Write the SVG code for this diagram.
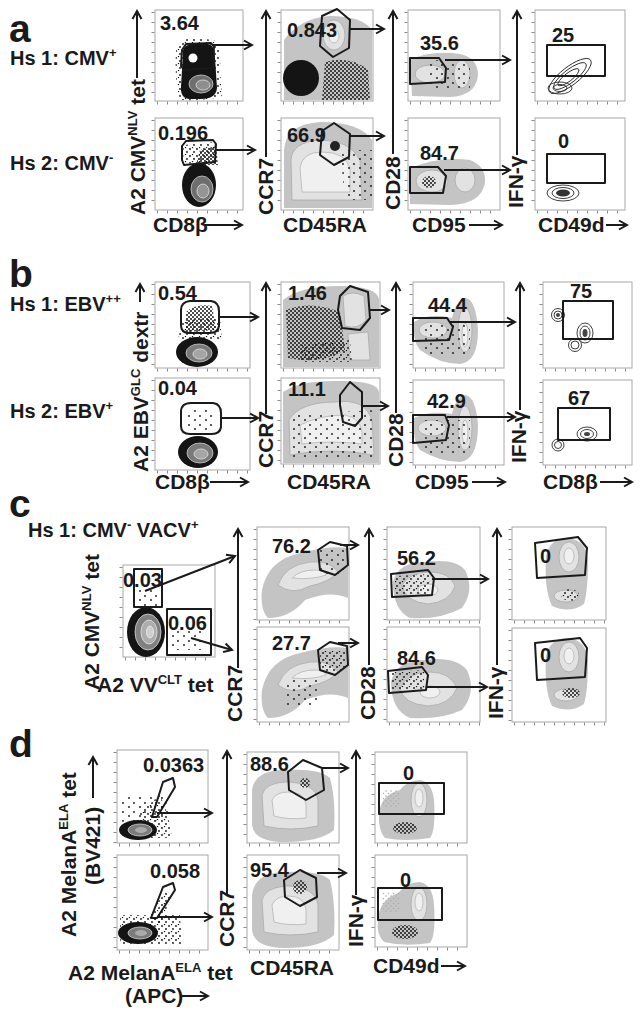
<svg xmlns="http://www.w3.org/2000/svg" width="644" height="1019" viewBox="0 0 644 1019">
<defs>
<style>
text{font-family:"Liberation Sans",Arial,sans-serif;font-weight:bold;fill:#1a1a1a}
.pl{font-size:39px}
.hs{font-size:20px}
.num{font-size:20px}
.ax{font-size:21px}
.sup{font-size:13px}
.fr{fill:#fff;stroke:#a8a8a8;stroke-width:1}
.tk{stroke:#8a8a8a;stroke-width:3;stroke-dasharray:1 9;fill:none}
.gate{fill:none;stroke:#1a1a1a;stroke-width:2;stroke-linejoin:round}
.bk{fill:#141414}
.gy{fill:#c4c4c4}
.lt{fill:#e2e2e2;stroke:#a9a9a9;stroke-width:0.8}
.lt2{fill:#f0f0f0;stroke:#b5b5b5;stroke-width:0.8}
.ct{fill:none;stroke:#2a2a2a;stroke-width:0.9}
.con line,.con polyline,.con path{stroke:#1a1a1a;stroke-width:2;fill:none;marker-end:url(#ah)}
</style>
<marker id="ah" markerWidth="12" markerHeight="12" refX="10" refY="6" orient="auto" markerUnits="userSpaceOnUse">
<path d="M2,1.5 L10,6 L2,10.5" fill="none" stroke="#1a1a1a" stroke-width="2"/>
</marker>
<pattern id="spk" width="7" height="7" patternUnits="userSpaceOnUse">
<circle cx="1" cy="2" r="0.9" fill="#111"/><circle cx="5" cy="5" r="0.9" fill="#111"/><circle cx="3.5" cy="0.5" r="0.7" fill="#111"/>
</pattern>
<pattern id="spkd" width="4" height="4" patternUnits="userSpaceOnUse">
<circle cx="1" cy="1" r="1" fill="#111"/><circle cx="3" cy="3" r="1" fill="#111"/>
</pattern>
<pattern id="spks" width="11" height="9" patternUnits="userSpaceOnUse">
<circle cx="2" cy="2" r="0.9" fill="#111"/><circle cx="8" cy="6" r="0.9" fill="#111"/>
</pattern>
<pattern id="spkg" width="5" height="5" patternUnits="userSpaceOnUse">
<circle cx="1" cy="1" r="0.8" fill="#aaa"/><circle cx="3.5" cy="3.5" r="0.8" fill="#aaa"/>
</pattern>
</defs>
<rect width="644" height="1019" fill="#fff"/>

<!-- ================= PANEL A ================= -->
<g id="panel-a-labels">
<text class="pl" x="9" y="42">a</text>
<text class="hs" x="10" y="65">Hs 1: CMV<tspan class="sup" dy="-8">+</tspan></text>
<text class="hs" x="10" y="170">Hs 2: CMV<tspan class="sup" dy="-8">-</tspan></text>
<text class="ax" transform="translate(145,215) rotate(-90)">A2 CMV<tspan class="sup" dy="-8">NLV</tspan><tspan dy="8"> tet</tspan></text>
<text class="ax" transform="translate(273,215) rotate(-90)">CCR7</text>
<text class="ax" transform="translate(400,210) rotate(-90)">CD28</text>
<text class="ax" transform="translate(523,208) rotate(-90)">IFN-γ</text>
<text class="ax" x="153" y="232">CD8β</text>
<text class="ax" x="283" y="232">CD45RA</text>
<text class="ax" x="412" y="232">CD95</text>
<text class="ax" x="538" y="232">CD49d</text>
</g>

<g id="a1-top">
<rect class="fr" x="155" y="10" width="88" height="91"/>
<line class="tk" x1="153" y1="12" x2="153" y2="101"/><line class="tk" x1="157" y1="103" x2="243" y2="103"/>
<path fill="url(#spk)" d="M176,50 Q178,38 196,38 L214,40 Q222,50 220,70 L222,96 Q210,101 180,100 Q174,80 176,50 Z"/>
<path class="bk" d="M183,54 Q182,44 194,44 L208,44 Q215,45 215,58 L217,88 Q216,99 201,99 L189,99 Q180,98 181,86 Z"/>
<circle cx="193" cy="58" r="4.5" fill="#fff"/>
<ellipse cx="201" cy="84" rx="12" ry="9" fill="#6e6e6e" stroke="#cfcfcf" stroke-width="0.8"/>
<ellipse cx="203" cy="85" rx="7" ry="5" fill="#8e8e8e" stroke="#e0e0e0" stroke-width="0.8"/>
<polygon class="gate" points="182,50 186,44 211,43 214,47 213,68 184,70 181,66"/>
<text class="num" x="160" y="30">3.64</text>
</g>
<g id="a1-bot">
<rect class="fr" x="155" y="118" width="88" height="92"/>
<line class="tk" x1="153" y1="120" x2="153" y2="210"/><line class="tk" x1="157" y1="212" x2="243" y2="212"/>
<path fill="url(#spk)" d="M183,145 L214,142 L216,162 L184,164 Z"/>
<path fill="url(#spkd)" d="M200,150 L216,146 L218,165 L196,165 Z"/>
<ellipse class="bk" cx="199" cy="185" rx="17" ry="22"/>
<ellipse cx="202" cy="189" rx="11" ry="13" fill="#6e6e6e" stroke="#cfcfcf" stroke-width="0.8"/>
<ellipse cx="203" cy="191" rx="6" ry="7" fill="#959595" stroke="#e0e0e0" stroke-width="0.8"/>
<polygon class="gate" points="182,146 186,141 213,140 216,144 215,162 184,165 182,160"/>
<text class="num" x="158" y="140">0.196</text>
</g>

<g id="a2-top">
<rect class="fr" x="281" y="10" width="92" height="91"/>
<line class="tk" x1="279" y1="12" x2="279" y2="101"/><line class="tk" x1="283" y1="103" x2="373" y2="103"/>
<path class="gy" d="M284,40 Q300,18 330,16 Q362,16 372,30 L372,100 L284,100 Z"/>
<ellipse cx="334" cy="35" rx="11" ry="15" class="lt"/>
<ellipse cx="334" cy="36" rx="5" ry="7" class="lt2"/>
<path fill="url(#spkd)" d="M325,62 Q350,55 368,70 L370,100 L322,100 Z"/>
<ellipse class="bk" cx="301" cy="78" rx="18" ry="18"/>
<polygon class="gate" points="322,16 337,9 350,20 349,48 333,57 320,46"/>
<text class="num" x="287" y="37">0.843</text>
</g>
<g id="a2-bot">
<rect class="fr" x="281" y="118" width="92" height="92"/>
<line class="tk" x1="279" y1="120" x2="279" y2="210"/><line class="tk" x1="283" y1="212" x2="373" y2="212"/>
<path class="gy" d="M284,150 Q286,124 320,122 Q360,122 372,140 L372,208 L284,208 Z"/>
<path class="lt" d="M291,160 Q292,142 320,140 Q350,140 360,160 L362,200 L292,200 Z"/>
<path class="lt2" d="M300,168 Q302,152 322,152 Q345,152 350,168 L350,192 L302,192 Z"/>
<circle cx="335" cy="146" r="5" fill="#222"/>
<path fill="url(#spks)" d="M340,150 L372,150 L372,200 L345,200 Z"/>
<polygon class="gate" points="322,131 334,123 350,134 349,157 334,165 320,155"/>
<text class="num" x="287" y="142">66.9</text>
</g>

<g id="a3-top">
<rect class="fr" x="408" y="10" width="92" height="91"/>
<line class="tk" x1="406" y1="12" x2="406" y2="101"/><line class="tk" x1="410" y1="103" x2="500" y2="103"/>
<path class="gy" d="M410,60 Q430,50 460,54 Q478,58 478,75 Q476,96 450,97 L412,96 Z"/>
<ellipse cx="430" cy="74" rx="15" ry="9" class="lt"/>
<ellipse cx="462" cy="74" rx="8" ry="14" class="lt"/>
<path fill="url(#spks)" d="M430,60 L470,60 L470,90 L430,90 Z"/>
<polygon class="gate" points="410,58 439,58 446,68 445,82 410,84"/>
<text class="num" x="420" y="50">35.6</text>
</g>
<g id="a3-bot">
<rect class="fr" x="408" y="118" width="92" height="92"/>
<line class="tk" x1="406" y1="120" x2="406" y2="210"/><line class="tk" x1="410" y1="212" x2="500" y2="212"/>
<path class="gy" d="M410,168 Q440,156 470,160 Q486,166 485,182 Q482,204 450,205 L410,204 Z"/>
<ellipse cx="432" cy="181" rx="16" ry="11" class="lt"/>
<ellipse cx="465" cy="180" rx="10" ry="12" class="lt"/>
<ellipse cx="429" cy="182" rx="7" ry="6" fill="url(#spkd)"/>
<polygon class="gate" points="410,167 438,167 446,176 443,193 410,193"/>
<text class="num" x="420" y="160">84.7</text>
</g>

<g id="a4-top">
<rect class="fr" x="535" y="10" width="90" height="91"/>
<line class="tk" x1="533" y1="12" x2="533" y2="101"/><line class="tk" x1="537" y1="103" x2="625" y2="103"/>
<g transform="rotate(-38 570 76)">
<ellipse class="ct" cx="570" cy="76" rx="26" ry="9"/>
<ellipse class="ct" cx="570" cy="76" rx="20" ry="6.5"/>
<ellipse class="ct" cx="568" cy="76" rx="13" ry="4"/>
</g>
<ellipse class="ct" cx="560" cy="88" rx="12" ry="6"/>
<ellipse class="ct" cx="560" cy="88" rx="7" ry="3.5" fill="#555"/>
<rect class="gate" x="547" y="45" width="58" height="31"/>
<text class="num" x="552" y="42">25</text>
</g>
<g id="a4-bot">
<rect class="fr" x="535" y="118" width="90" height="92"/>
<line class="tk" x1="533" y1="120" x2="533" y2="210"/><line class="tk" x1="537" y1="212" x2="625" y2="212"/>
<ellipse class="ct" cx="563" cy="193" rx="16" ry="8"/>
<ellipse class="ct" cx="563" cy="193" rx="11" ry="5.5"/>
<ellipse cx="563" cy="193" rx="7" ry="3.5" fill="#333"/>
<rect class="gate" x="547" y="154" width="58" height="29"/>
<text class="num" x="558" y="148">0</text>
</g>

<!-- ================= PANEL B ================= -->
<g id="panel-b-labels">
<text class="pl" x="9" y="287">b</text>
<text class="hs" x="10" y="311">Hs 1: EBV<tspan class="sup" dy="-8">++</tspan></text>
<text class="hs" x="10" y="418">Hs 2: EBV<tspan class="sup" dy="-8">+</tspan></text>
<text class="ax" font-size="22" transform="translate(148,472) rotate(-90)">A2 EBV<tspan class="sup" dy="-8">GLC</tspan><tspan dy="8"> dextr</tspan></text>
<text class="ax" transform="translate(273,468) rotate(-90)">CCR7</text>
<text class="ax" transform="translate(403,467) rotate(-90)">CD28</text>
<text class="ax" transform="translate(526,463) rotate(-90)">IFN-γ</text>
<text class="ax" x="155" y="489">CD8β</text>
<text class="ax" x="287" y="489">CD45RA</text>
<text class="ax" x="415" y="489">CD95</text>
<text class="ax" x="543" y="489">CD8β</text>
</g>

<g id="b1-top">
<rect class="fr" x="155" y="282" width="95" height="86"/>
<line class="tk" x1="153" y1="284" x2="153" y2="368"/><line class="tk" x1="157" y1="370" x2="250" y2="370"/>
<path fill="url(#spkd)" d="M186,312 Q195,303 212,306 L216,330 L186,332 Z"/>
<path fill="url(#spk)" d="M182,320 L220,318 L222,340 L178,340 Z"/>
<ellipse class="bk" cx="197" cy="352" rx="21" ry="15"/>
<ellipse cx="199" cy="353" rx="13" ry="9" fill="#7a7a7a" stroke="#d0d0d0" stroke-width="0.8"/>
<ellipse cx="200" cy="354" rx="7" ry="5" fill="#a5a5a5" stroke="#e2e2e2" stroke-width="0.8"/>
<path class="gate" d="M181,310 Q181,302 190,301 L211,301 Q219,302 219,311 L219,326 Q218,333 210,333 L189,333 Q181,333 181,325 Z"/>
<text class="num" x="158" y="300">0.54</text>
</g>
<g id="b1-bot">
<rect class="fr" x="155" y="378" width="95" height="92"/>
<line class="tk" x1="153" y1="380" x2="153" y2="470"/><line class="tk" x1="157" y1="472" x2="250" y2="472"/>
<path fill="url(#spks)" d="M186,408 L216,408 L216,432 L186,432 Z"/>
<ellipse class="bk" cx="198" cy="452" rx="20" ry="16"/>
<ellipse cx="200" cy="453" rx="13" ry="10" fill="#7a7a7a" stroke="#d0d0d0" stroke-width="0.8"/>
<ellipse cx="201" cy="454" rx="7" ry="5" fill="#a5a5a5" stroke="#e2e2e2" stroke-width="0.8"/>
<path class="gate" d="M181,412 Q181,403 191,403 L213,403 Q221,404 221,413 L221,427 Q220,434 212,434 L190,434 Q181,434 181,426 Z"/>
<text class="num" x="158" y="395">0.04</text>
</g>

<g id="b2-top">
<rect class="fr" x="281" y="282" width="99" height="86"/>
<line class="tk" x1="279" y1="284" x2="279" y2="368"/><line class="tk" x1="283" y1="370" x2="380" y2="370"/>
<path class="gy" d="M283,300 Q300,286 340,286 Q378,286 379,300 L379,367 L283,367 Z"/>
<path class="lt" d="M343,296 Q352,290 364,296 L366,320 Q358,330 345,326 Z"/>
<path class="lt" d="M348,334 L368,332 L370,360 L350,360 Z"/>
<path fill="url(#spkd)" d="M286,310 Q310,300 340,312 L345,350 Q320,365 288,358 Z"/>
<path fill="url(#spk)" d="M300,345 L350,340 L352,362 L300,362 Z"/>
<polygon class="gate" points="340,296 350,286 368,292 370,318 360,330 342,328 338,310"/>
<text class="num" x="288" y="300">1.46</text>
</g>
<g id="b2-bot">
<rect class="fr" x="281" y="378" width="99" height="86"/>
<line class="tk" x1="279" y1="380" x2="279" y2="464"/><line class="tk" x1="283" y1="466" x2="380" y2="466"/>
<path class="gy" d="M283,392 Q300,380 340,381 Q378,381 379,392 L379,463 L283,463 Z"/>
<path class="lt" d="M289,420 Q300,402 335,402 Q365,398 372,420 L374,455 Q330,447 290,455 Z"/>
<path class="lt2" d="M300,425 Q320,415 345,415 Q360,418 362,432 L362,444 Q330,440 302,444 Z"/>
<path fill="url(#spks)" d="M292,415 L375,410 L375,458 L292,458 Z"/>
<polygon class="gate" points="340,395 350,382 362,392 362,418 355,426 343,422 340,405"/>
<text class="num" x="288" y="396">11.1</text>
</g>

<g id="b3-top">
<rect class="fr" x="413" y="282" width="91" height="86"/>
<line class="tk" x1="411" y1="284" x2="411" y2="368"/><line class="tk" x1="415" y1="370" x2="504" y2="370"/>
<path class="gy" d="M414,322 Q430,312 452,318 Q456,300 466,298 Q476,300 478,330 Q478,362 460,364 Q440,364 420,350 Q412,340 414,322 Z"/>
<ellipse cx="433" cy="330" rx="14" ry="8" class="lt"/>
<ellipse cx="465" cy="330" rx="7" ry="22" class="lt"/>
<ellipse cx="465" cy="335" rx="3" ry="12" class="lt2"/>
<path fill="url(#spks)" d="M425,322 L470,322 L470,355 L425,355 Z"/>
<polygon class="gate" points="413,318 447,318 453,327 449,340 413,341"/>
<text class="num" x="428" y="312">44.4</text>
</g>
<g id="b3-bot">
<rect class="fr" x="413" y="380" width="91" height="85"/>
<line class="tk" x1="411" y1="382" x2="411" y2="465"/><line class="tk" x1="415" y1="467" x2="504" y2="467"/>
<path class="gy" d="M414,418 Q430,410 452,414 Q456,396 466,395 Q476,398 478,425 Q478,460 460,462 Q440,462 420,450 Q412,440 414,418 Z"/>
<ellipse cx="432" cy="428" rx="14" ry="8" class="lt"/>
<ellipse cx="465" cy="428" rx="7" ry="22" class="lt"/>
<ellipse cx="465" cy="432" rx="3" ry="12" class="lt2"/>
<path fill="url(#spks)" d="M425,420 L470,420 L470,455 L425,455 Z"/>
<polygon class="gate" points="413,415 445,415 449,425 446,440 413,443"/>
<text class="num" x="427" y="408">42.9</text>
</g>

<g id="b4-top">
<rect class="fr" x="543" y="282" width="89" height="86"/>
<line class="tk" x1="541" y1="284" x2="541" y2="368"/><line class="tk" x1="545" y1="370" x2="632" y2="370"/>
<circle class="ct" cx="558" cy="315" r="6.5"/><circle class="ct" cx="558" cy="315" r="4"/><circle cx="558" cy="315" r="2" fill="#444"/>
<ellipse class="ct" cx="585" cy="333" rx="8" ry="10"/><ellipse class="ct" cx="585" cy="333" rx="5" ry="7"/><ellipse cx="585" cy="333" rx="2.5" ry="4" fill="#444"/>
<circle class="ct" cx="575" cy="345" r="6.5"/><circle class="ct" cx="575" cy="345" r="4"/>
<rect class="gate" x="563" y="301" width="50" height="38"/>
<text class="num" x="570" y="298">75</text>
</g>
<g id="b4-bot">
<rect class="fr" x="543" y="380" width="89" height="85"/>
<line class="tk" x1="541" y1="382" x2="541" y2="465"/><line class="tk" x1="545" y1="467" x2="632" y2="467"/>
<circle class="ct" cx="558" cy="445" r="6"/><circle class="ct" cx="558" cy="445" r="3.5"/>
<ellipse class="ct" cx="587" cy="434" rx="10" ry="7"/><ellipse class="ct" cx="587" cy="434" rx="6.5" ry="4.5"/><ellipse cx="587" cy="434" rx="3" ry="2" fill="#444"/>
<rect class="gate" x="558" y="408" width="52" height="32"/>
<text class="num" x="568" y="405">67</text>
</g>

<!-- ================= PANEL C ================= -->
<g id="panel-c-labels">
<text class="pl" x="9" y="517">c</text>
<text class="hs" x="28" y="537">Hs 1: CMV<tspan class="sup" dy="-8">-</tspan><tspan dy="8"> VACV</tspan><tspan class="sup" dy="-8">+</tspan></text>
<text class="ax" transform="translate(99,690) rotate(-90)">A2 CMV<tspan class="sup" dy="-8">NLV</tspan><tspan dy="8"> tet</tspan></text>
<text class="ax" x="97" y="692">A2 VV<tspan class="sup" dy="-8">CLT</tspan><tspan dy="8"> tet</tspan></text>
<text class="ax" transform="translate(242,722) rotate(-90)">CCR7</text>
<text class="ax" transform="translate(375,720) rotate(-90)">CD28</text>
<text class="ax" transform="translate(503,719) rotate(-90)">IFN-γ</text>
</g>

<g id="c1-tet">
<rect class="fr" x="123" y="565" width="92" height="92"/>
<line class="tk" x1="121" y1="567" x2="121" y2="657"/><line class="tk" x1="125" y1="659" x2="215" y2="659"/>
<path fill="url(#spks)" d="M136,590 L160,590 L160,606 L136,606 Z"/>
<path fill="url(#spks)" d="M170,628 L205,628 L205,650 L170,650 Z"/>
<ellipse class="bk" cx="146" cy="632" rx="19" ry="25"/>
<ellipse cx="148" cy="632" rx="13" ry="18" fill="#808080" stroke="#d8d8d8" stroke-width="0.8"/>
<ellipse cx="149" cy="632" rx="8" ry="12" fill="#adadad" stroke="#e4e4e4" stroke-width="0.8"/>
<ellipse cx="150" cy="632" rx="3.5" ry="6" fill="#cfcfcf" stroke="#eee" stroke-width="0.8"/>
<rect class="gate" x="134" y="569" width="28" height="38"/>
<rect class="gate" x="167" y="609" width="44" height="46"/>
<text class="num" x="123" y="587">0.03</text>
<text class="num" x="168" y="630">0.06</text>
</g>

<g id="c2-top">
<rect class="fr" x="257" y="527" width="92" height="93"/>
<line class="tk" x1="255" y1="529" x2="255" y2="620"/><line class="tk" x1="259" y1="622" x2="349" y2="622"/>
<path class="gy" d="M262,590 Q268,560 300,553 Q330,545 348,548 L348,598 Q330,590 305,600 Q290,618 268,618 Q260,610 262,590 Z"/>
<path class="lt" d="M278,585 Q285,565 310,562 Q330,560 338,572 Q330,582 310,586 Q292,596 278,585 Z"/>
<path class="lt2" d="M292,578 Q300,570 315,570 Q325,570 326,575 Q312,580 292,578 Z"/>
<path fill="url(#spks)" d="M320,548 L346,548 L346,575 L320,575 Z"/>
<polygon class="gate" points="318,550 330,542 347,546 348,565 335,575 320,570"/>
<text class="num" x="272" y="553">76.2</text>
</g>
<g id="c2-bot">
<rect class="fr" x="257" y="627" width="92" height="95"/>
<line class="tk" x1="255" y1="629" x2="255" y2="722"/><line class="tk" x1="259" y1="724" x2="349" y2="724"/>
<path class="gy" d="M262,690 Q268,660 300,653 Q330,645 348,648 L348,698 Q330,690 305,700 Q290,718 268,718 Q260,710 262,690 Z"/>
<path class="lt" d="M278,685 Q285,665 310,662 Q330,660 338,672 Q330,682 310,686 Q292,696 278,685 Z"/>
<path class="lt2" d="M292,678 Q300,670 315,670 Q325,670 326,675 Q312,680 292,678 Z"/>
<path fill="url(#spk)" d="M320,650 L346,650 L346,672 L320,672 Z"/>
<path fill="url(#spks)" d="M285,680 L320,678 L320,705 L285,705 Z"/>
<polygon class="gate" points="318,650 330,642 347,646 348,665 335,675 320,670"/>
<text class="num" x="272" y="650">27.7</text>
</g>

<g id="c3-top">
<rect class="fr" x="387" y="527" width="93" height="93"/>
<line class="tk" x1="385" y1="529" x2="385" y2="620"/><line class="tk" x1="389" y1="622" x2="480" y2="622"/>
<path class="gy" d="M393,582 Q398,562 425,562 Q455,558 465,570 Q475,590 462,608 Q440,620 410,618 Q393,610 393,582 Z"/>
<path class="lt" d="M402,585 Q410,572 430,572 Q450,572 455,586 Q450,602 428,604 Q405,602 402,585 Z"/>
<ellipse cx="428" cy="590" rx="10" ry="6" class="lt2"/>
<path fill="url(#spk)" d="M395,576 L430,574 L430,594 L395,594 Z"/>
<polygon class="gate" points="391,574 428,570 434,578 432,595 392,597"/>
<text class="num" x="397" y="565">56.2</text>
</g>
<g id="c3-bot">
<rect class="fr" x="387" y="627" width="93" height="95"/>
<line class="tk" x1="385" y1="629" x2="385" y2="722"/><line class="tk" x1="389" y1="724" x2="480" y2="724"/>
<path class="gy" d="M391,682 Q396,660 425,660 Q455,656 467,670 Q477,692 462,710 Q440,720 410,718 Q391,710 391,682 Z"/>
<path class="lt" d="M400,688 Q408,672 430,672 Q450,672 457,688 Q450,705 428,706 Q403,704 400,688 Z"/>
<ellipse cx="430" cy="692" rx="10" ry="6" class="lt2"/>
<path fill="url(#spk)" d="M392,672 L424,670 L424,690 L392,690 Z"/>
<polygon class="gate" points="388,671 422,667 428,675 426,690 389,693"/>
<text class="num" x="397" y="665">84.6</text>
</g>

<g id="c4-top">
<rect class="fr" x="512" y="527" width="94" height="93"/>
<line class="tk" x1="510" y1="529" x2="510" y2="620"/><line class="tk" x1="514" y1="622" x2="606" y2="622"/>
<path class="gy" d="M546,556 Q550,538 568,538 Q586,540 588,560 Q588,590 584,604 Q570,614 552,606 Q544,590 546,556 Z"/>
<ellipse cx="569" cy="557" rx="10" ry="15" class="lt"/>
<ellipse cx="569" cy="556" rx="5" ry="8" class="lt2"/>
<ellipse cx="566" cy="596" rx="12" ry="6" class="lt"/>
<ellipse cx="570" cy="595" rx="9" ry="6" fill="url(#spk)"/>
<polygon class="gate" points="535,543 578,537 587,548 585,575 537,578"/>
<text class="num" x="540" y="563">0</text>
</g>
<g id="c4-bot">
<rect class="fr" x="512" y="628" width="94" height="94"/>
<line class="tk" x1="510" y1="630" x2="510" y2="722"/><line class="tk" x1="514" y1="724" x2="606" y2="724"/>
<path class="gy" d="M546,656 Q550,638 568,638 Q586,640 588,660 Q588,690 584,704 Q570,714 552,706 Q544,690 546,656 Z"/>
<ellipse cx="569" cy="657" rx="10" ry="15" class="lt"/>
<ellipse cx="569" cy="656" rx="5" ry="8" class="lt2"/>
<ellipse cx="566" cy="695" rx="12" ry="6" class="lt"/>
<ellipse cx="571" cy="693" rx="9" ry="5" fill="url(#spkd)"/>
<polygon class="gate" points="535,643 580,638 587,648 585,677 537,680"/>
<text class="num" x="540" y="662">0</text>
</g>

<!-- ================= PANEL D ================= -->
<g id="panel-d-labels">
<text class="pl" x="9" y="757">d</text>
<text class="ax" font-size="22" transform="translate(76,937) rotate(-90)">A2 MelanA<tspan class="sup" dy="-8">ELA</tspan><tspan dy="8"> tet</tspan></text>
<text class="ax" font-size="22" transform="translate(100,885) rotate(-90)">(BV421)</text>
<text class="ax" x="68" y="980">A2 MelanA<tspan class="sup" dy="-8">ELA</tspan><tspan dy="8"> tet</tspan></text>
<text class="ax" x="125" y="1003">(APC)</text>
<text class="ax" transform="translate(234,947) rotate(-90)">CCR7</text>
<text class="ax" transform="translate(363,947) rotate(-90)">IFN-γ</text>
<text class="ax" x="250" y="975">CD45RA</text>
<text class="ax" x="373" y="973">CD49d</text>
</g>

<g id="d1-top">
<rect class="fr" x="117" y="750" width="91" height="93"/>
<line class="tk" x1="115" y1="752" x2="115" y2="843"/><line class="tk" x1="119" y1="845" x2="208" y2="845"/>
<path fill="url(#spks)" d="M120,795 L165,795 L170,820 L120,822 Z"/>
<path fill="url(#spk)" d="M140,812 L160,795 L168,815 L172,838 L140,838 Z"/>
<ellipse class="bk" cx="138" cy="830" rx="19" ry="10"/>
<ellipse cx="140" cy="830" rx="12" ry="6" fill="#7c7c7c" stroke="#d4d4d4" stroke-width="0.8"/>
<ellipse cx="141" cy="830" rx="6" ry="3" fill="#aaa"/>
<polygon class="gate" points="152,817 163,782 173,778 175,787 157,817"/>
<text class="num" x="143" y="772">0.0363</text>
</g>
<g id="d1-bot">
<rect class="fr" x="117" y="855" width="91" height="95"/>
<line class="tk" x1="115" y1="857" x2="115" y2="950"/><line class="tk" x1="119" y1="952" x2="208" y2="952"/>
<path fill="url(#spk)" d="M150,915 L165,890 L172,895 L160,925 Z"/>
<path fill="url(#spk)" d="M120,915 L180,915 L182,945 L120,945 Z"/>
<ellipse class="bk" cx="138" cy="933" rx="20" ry="11"/>
<ellipse cx="140" cy="933" rx="12" ry="6" fill="#7c7c7c" stroke="#d4d4d4" stroke-width="0.8"/>
<ellipse cx="141" cy="933" rx="6" ry="3" fill="#aaa"/>
<polygon class="gate" points="151,918 163,887 173,883 175,890 157,918"/>
<text class="num" x="150" y="878">0.058</text>
</g>

<g id="d2-top">
<rect class="fr" x="247" y="752" width="92" height="91"/>
<line class="tk" x1="245" y1="754" x2="245" y2="843"/><line class="tk" x1="249" y1="845" x2="339" y2="845"/>
<path class="gy" d="M252,790 Q255,770 285,770 Q320,768 330,778 Q336,800 334,830 Q320,842 285,842 Q254,842 252,825 Z"/>
<path class="lt" d="M262,795 Q265,783 285,782 Q315,782 318,800 L318,826 Q290,832 264,826 Z"/>
<path class="lt2" d="M272,800 Q276,792 288,792 Q305,792 306,805 L306,818 Q288,820 274,816 Z"/>
<circle cx="305" cy="783" r="5" fill="url(#spkd)"/>
<polygon class="gate" points="288,772 303,760 322,768 324,790 306,800 289,790"/>
<text class="num" x="250" y="771">88.6</text>
</g>
<g id="d2-bot">
<rect class="fr" x="247" y="855" width="92" height="95"/>
<line class="tk" x1="245" y1="857" x2="245" y2="950"/><line class="tk" x1="249" y1="952" x2="339" y2="952"/>
<path class="gy" d="M252,895 Q255,872 285,872 Q320,870 330,880 Q336,905 334,935 Q320,948 285,948 Q254,948 252,930 Z"/>
<path class="lt" d="M262,900 Q265,888 285,886 Q315,886 318,905 L318,932 Q290,938 264,932 Z"/>
<path class="lt2" d="M272,905 Q276,896 288,896 Q305,896 306,910 L306,924 Q288,926 274,922 Z"/>
<circle cx="300" cy="887" r="7" fill="url(#spkd)"/>
<polygon class="gate" points="284,880 300,870 316,878 317,897 300,906 285,897"/>
<text class="num" x="250" y="877">95.4</text>
</g>

<g id="d3-top">
<rect class="fr" x="375" y="752" width="92" height="91"/>
<line class="tk" x1="373" y1="754" x2="373" y2="843"/><line class="tk" x1="377" y1="845" x2="467" y2="845"/>
<path class="gy" d="M379,815 Q380,795 400,790 Q408,780 420,780 Q432,782 434,800 Q436,830 430,838 Q405,842 385,838 Q378,830 379,815 Z"/>
<ellipse cx="419" cy="800" rx="8" ry="17" class="lt"/>
<ellipse cx="419" cy="798" rx="4" ry="9" class="lt2"/>
<path fill="url(#spkg)" d="M383,790 L400,790 L400,808 L383,808 Z"/>
<ellipse cx="405" cy="828" rx="12" ry="6" fill="url(#spkd)"/>
<rect class="gate" x="379" y="783" width="65" height="31"/>
<text class="num" x="403" y="780">0</text>
</g>
<g id="d3-bot">
<rect class="fr" x="375" y="855" width="92" height="92"/>
<line class="tk" x1="373" y1="857" x2="373" y2="947"/><line class="tk" x1="377" y1="949" x2="467" y2="949"/>
<path class="gy" d="M378,920 Q379,900 398,893 Q408,882 420,882 Q433,885 434,905 Q436,935 430,943 Q405,947 384,942 Q376,934 378,920 Z"/>
<ellipse cx="419" cy="904" rx="8" ry="17" class="lt"/>
<ellipse cx="419" cy="902" rx="4" ry="9" class="lt2"/>
<path fill="url(#spkg)" d="M382,893 L400,893 L400,912 L382,912 Z"/>
<ellipse cx="405" cy="932" rx="13" ry="7" fill="url(#spkd)"/>
<rect class="gate" x="378" y="888" width="64" height="32"/>
<text class="num" x="400" y="887">0</text>
</g>

<!-- ================= CONNECTORS ================= -->
<g id="connectors" class="con">
<line x1="137" y1="78" x2="137" y2="11"/>
<line x1="266" y1="157" x2="266" y2="11"/>
<line x1="393" y1="154" x2="393" y2="11"/>
<line x1="517" y1="155" x2="517" y2="11"/>
<line x1="205" y1="225" x2="242" y2="225"/>
<line x1="469" y1="225" x2="502" y2="225"/>
<line x1="606" y1="225" x2="627" y2="225"/>
<line x1="213" y1="45" x2="252" y2="45"/>
<line x1="215" y1="150" x2="255" y2="150"/>
<line x1="349" y1="29" x2="384" y2="29"/>
<line x1="349" y1="136" x2="384" y2="136"/>
<line x1="445" y1="60" x2="510" y2="60"/>
<line x1="444" y1="170" x2="510" y2="170"/>
<line x1="140" y1="302" x2="140" y2="284"/>
<line x1="266" y1="414" x2="266" y2="283"/>
<line x1="396" y1="413" x2="396" y2="283"/>
<line x1="520" y1="410" x2="520" y2="283"/>
<line x1="210" y1="482" x2="248" y2="482"/>
<line x1="472" y1="482" x2="505" y2="482"/>
<line x1="600" y1="482" x2="632" y2="482"/>
<line x1="219" y1="317" x2="258" y2="317"/>
<line x1="221" y1="418" x2="258" y2="418"/>
<line x1="370" y1="310" x2="389" y2="310"/>
<line x1="362" y1="406" x2="388" y2="406"/>
<line x1="450" y1="322" x2="515" y2="322"/>
<line x1="447" y1="417" x2="515" y2="417"/>
<line x1="238" y1="668" x2="238" y2="529"/>
<line x1="369" y1="665" x2="369" y2="529"/>
<line x1="497" y1="665" x2="497" y2="529"/>
<line x1="145" y1="591" x2="235" y2="556"/>
<line x1="191" y1="638" x2="232" y2="650"/>
<line x1="340" y1="545" x2="358" y2="545"/>
<line x1="338" y1="643" x2="358" y2="643"/>
<line x1="432" y1="579" x2="488" y2="579"/>
<line x1="427" y1="687" x2="487" y2="687"/>
<line x1="93" y1="798" x2="93" y2="757"/>
<line x1="227" y1="895" x2="227" y2="751"/>
<line x1="356" y1="895" x2="356" y2="751"/>
<line x1="182" y1="996" x2="208" y2="996"/>
<line x1="441" y1="966" x2="465" y2="966"/>
<line x1="157" y1="813" x2="212" y2="813"/>
<line x1="157" y1="917" x2="212" y2="917"/>
<line x1="322" y1="768" x2="348" y2="768"/>
<line x1="317" y1="873" x2="346" y2="873"/>
</g>
</svg>
